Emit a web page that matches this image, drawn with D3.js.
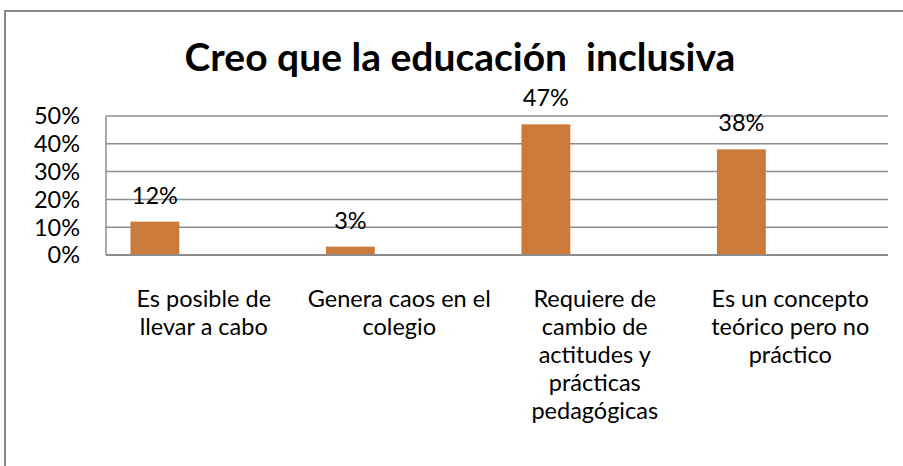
<!DOCTYPE html>
<html>
<head>
<meta charset="utf-8">
<script src="https://cdn.jsdelivr.net/npm/d3@7"></script>
<style>
    body { margin: 0; background: white; }
    svg { display: block; font-family: Lato, "Open Sans", sans-serif; }
</style>
</head>
<body>
<div id="chartdiv"></div>
<script>
/*global d3 */

var categories = ["Es posible de llevar a cabo",
                  "Genera caos en el colegio",
                  "Requiere de cambio de actitudes y prácticas pedagógicas",
                  "Es un concepto teórico pero no práctico"];
var categoryLines = [["Es posible de", "llevar a cabo"],
                     ["Genera caos en el", "colegio"],
                     ["Requiere de", "cambio de", "actitudes y", "prácticas", "pedagógicas"],
                     ["Es un concepto", "teórico pero no", "práctico"]];
var values = [0.12, 0.03, 0.47, 0.38];
var yTicks = [0, 0.1, 0.2, 0.3, 0.4, 0.5];
var title = "Creo que la educación  inclusiva";

(function () {
    "use strict";

    var ds = {w: 903, h: 466,
              plot: {left: 106, right: 888, top: 116, bottom: 255},
              barcolor: "#cc7a3a", gridcolor: "#8c8c8c",
              textcolor: "#000", framecolor: "#898989"},
        svg, x, y, fmt;

    svg = d3.select("#chartdiv").append("svg")
        .attr("width", ds.w).attr("height", ds.h);

    //outer chart frame, cut off at the right and bottom
    svg.append("rect")
        .attr("x", 5).attr("y", 11)
        .attr("width", 1200).attr("height", 1000)
        .style("fill", "none").style("stroke", ds.framecolor)
        .style("stroke-width", 2);

    svg.append("text")
        .attr("x", 460).attr("y", 71)
        .attr("text-anchor", "middle")
        .style("font-size", "39px").style("font-weight", "bold")
        .style("white-space", "pre")
        .attr("fill", ds.textcolor)
        .text(title);

    x = d3.scaleBand().domain(categories)
        .range([ds.plot.left, ds.plot.right]).padding(0);
    y = d3.scaleLinear().domain([0, 0.5])
        .range([ds.plot.bottom, ds.plot.top]);
    fmt = d3.format(".0%");

    //gridlines
    svg.append("g").selectAll("line")
        .data(yTicks.filter(function (t) { return t > 0; }))
        .join("line")
        .attr("x1", ds.plot.left).attr("x2", ds.plot.right)
        .attr("y1", function (d) { return y(d); })
        .attr("y2", function (d) { return y(d); })
        .style("stroke", ds.gridcolor).style("stroke-width", 1.5);

    //y axis labels
    svg.append("g").selectAll("text")
        .data(yTicks)
        .join("text")
        .attr("x", 80)
        .attr("y", function (d) { return y(d); })
        .attr("dy", "0.36em")
        .attr("text-anchor", "end")
        .style("font-size", "23.5px")
        .attr("fill", ds.textcolor)
        .text(fmt);

    //bars sit in the first quarter-slot of each category
    svg.append("g").selectAll("rect")
        .data(values)
        .join("rect")
        .attr("x", function (d, i) {
            return x(categories[i]) + x.bandwidth() * 0.125; })
        .attr("width", x.bandwidth() * 0.25)
        .attr("y", function (d) { return y(d); })
        .attr("height", function (d) { return y(0) - y(d); })
        .style("fill", ds.barcolor);

    //data labels
    svg.append("g").selectAll("text")
        .data(values)
        .join("text")
        .attr("x", function (d, i) {
            return x(categories[i]) + x.bandwidth() * 0.25; })
        .attr("y", function (d) { return y(d) - 18; })
        .attr("text-anchor", "middle")
        .style("font-size", "23.5px")
        .attr("fill", ds.textcolor)
        .text(fmt);

    //axes lines
    svg.append("line")
        .attr("x1", ds.plot.left).attr("x2", ds.plot.left)
        .attr("y1", ds.plot.top).attr("y2", ds.plot.bottom)
        .style("stroke", ds.gridcolor).style("stroke-width", 1.5);
    svg.append("line")
        .attr("x1", ds.plot.left).attr("x2", ds.plot.right)
        .attr("y1", ds.plot.bottom).attr("y2", ds.plot.bottom)
        .style("stroke", ds.gridcolor).style("stroke-width", 2);

    //category labels, wrapped as in the original
    svg.append("g").selectAll("text")
        .data(categories)
        .join("text")
        .attr("text-anchor", "middle")
        .style("font-size", "23.5px")
        .attr("fill", ds.textcolor)
        .each(function (d, i) {
            var cx = x(d) + x.bandwidth() / 2;
            d3.select(this).selectAll("tspan")
                .data(categoryLines[i])
                .join("tspan")
                .attr("x", cx)
                .attr("y", function (t, j) { return 307 + j * 28; })
                .text(function (t) { return t; });
        });
}());
</script>
</body>
</html>
